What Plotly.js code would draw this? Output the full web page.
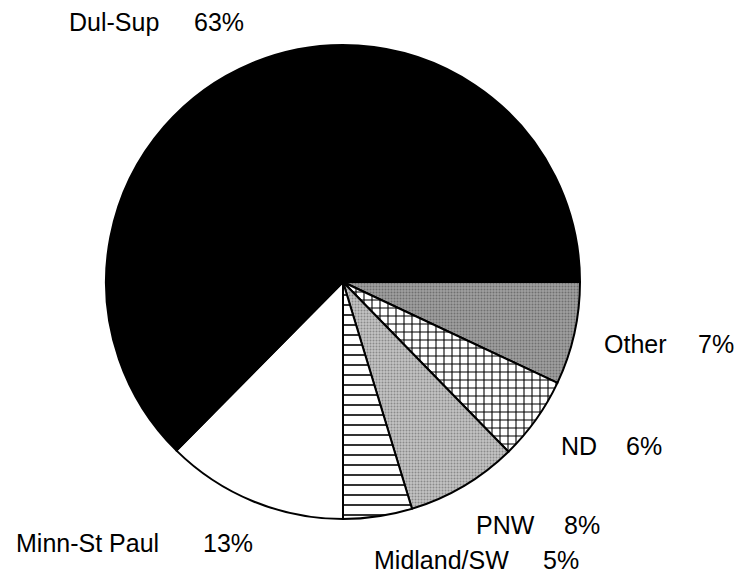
<!DOCTYPE html>
<html>
<head>
<meta charset="utf-8">
<script src="https://cdn.plot.ly/plotly-3.0.1.min.js"></script>
<style>html,body{margin:0;padding:0;background:#fff}#chart{width:740px;height:575px}</style>
</head>
<body>
<div id="chart"></div>
<script>
var categories = ['Dul-Sup', 'Minn-St Paul', 'Midland/SW', 'PNW', 'ND', 'Other'];
var shares = [62.6, 12.4, 4.7, 7.6, 5.7, 7.0];
var pctLabels = ['63%', '13%', '5%', '8%', '6%', '7%'];

var fills = ['#000000', '#ffffff', '#ffffff', '#c4c4c4', '#ffffff', '#a0a0a0'];
var patterns = ['', '', '-', '.', '+', '.'];
var patFg = ['#000', '#000', '#000', '#8a8a8a', '#000', '#707070'];
var patSizes = [8, 8, 10, 3, 8, 3];
var patSolid = [0.2, 0.2, 0.16, 0.35, 0.25, 0.35];

// label anchor points (paper px): [name left x, percent left x, vertical middle]
var labelPos = [[68, 193, 22], [15, 202, 543], [373, 542, 560], [475, 563, 525], [560, 625, 446], [603, 697, 344]];

var W = 740, H = 575;
var cx = 343, cy = 282, R = 237;
var font = {family: 'Liberation Sans, Arial, sans-serif', size: 25, color: '#000'};

var annotations = [];
categories.forEach(function (c, i) {
  annotations.push({
    xref: 'paper', yref: 'paper',
    x: labelPos[i][0] / W, y: 1 - labelPos[i][2] / H,
    xanchor: 'left', yanchor: 'middle', showarrow: false, borderpad: 0,
    text: c, font: font
  });
  annotations.push({
    xref: 'paper', yref: 'paper',
    x: labelPos[i][1] / W, y: 1 - labelPos[i][2] / H,
    xanchor: 'left', yanchor: 'middle', showarrow: false, borderpad: 0,
    text: pctLabels[i], font: font
  });
});

// drawn clockwise from 3 o'clock in reverse order so that Dul-Sup runs counterclockwise from 3 o'clock
function rev(a) { return a.slice().reverse(); }
var rFills = rev(fills);

var trace = {
  type: 'pie',
  labels: rev(categories),
  values: rev(shares),
  sort: false,
  direction: 'clockwise',
  rotation: 90,
  textinfo: 'none',
  hoverinfo: 'label+percent',
  showlegend: false,
  domain: {x: [(cx - R) / W, (cx + R) / W], y: [1 - (cy + R) / H, 1 - (cy - R) / H]},
  marker: {
    colors: rFills,
    line: {color: '#000', width: 2},
    pattern: {shape: rev(patterns), fgcolor: rev(patFg), bgcolor: rFills, size: rev(patSizes), solidity: rev(patSolid)}
  }
};

var layout = {
  width: W, height: H,
  margin: {l: 0, r: 0, t: 0, b: 0},
  paper_bgcolor: '#fff',
  plot_bgcolor: '#fff',
  showlegend: false,
  annotations: annotations
};

Plotly.newPlot('chart', [trace], layout, {displayModeBar: false, staticPlot: true});
</script>
</body>
</html>
